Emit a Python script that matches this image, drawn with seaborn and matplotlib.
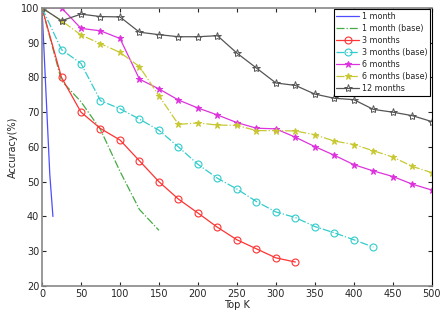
import matplotlib
matplotlib.use("Agg")
import matplotlib.pyplot as plt
import seaborn as sns
import numpy as np

sns.set_style("ticks")
plt.rcParams['font.family'] = ['DejaVu Sans']

k_1m = [0, 10, 14]
acc_1m = [100, 52, 40]

k_1m_base = [0, 25, 50, 75, 100, 125, 150]
acc_1m_base = [100, 79, 73, 65, 53, 42, 36]

k_3m = [0, 25, 50, 75, 100, 125, 150, 175, 200, 225, 250, 275, 300, 325]
acc_3m = [100, 80, 70, 65.3, 62, 56, 50, 45, 41, 36.9, 33.3, 30.7, 28.1, 26.9]

k_3m_base = [0, 25, 50, 75, 100, 125, 150, 175, 200, 225, 250, 275, 300, 325, 350, 375, 400, 425]
acc_3m_base = [100, 88, 84, 73.3, 71, 68, 64.8, 60, 55, 51, 47.9, 44.3, 41.3, 39.7, 37.1, 35.3, 33.3, 31.2]

k_6m = [0, 25, 50, 75, 100, 125, 150, 175, 200, 225, 250, 275, 300, 325, 350, 375, 400, 425, 450, 475, 500]
acc_6m = [100, 100, 94.1, 93.4, 91.2, 79.5, 76.7, 73.5, 71.2, 69.2, 67, 65.4, 65.2, 62.8, 60.1, 57.6, 54.9, 53.1, 51.5, 49.3, 47.6]

k_6m_base = [0, 25, 50, 75, 100, 125, 150, 175, 200, 225, 250, 275, 300, 325, 350, 375, 400, 425, 450, 475, 500]
acc_6m_base = [100, 96.3, 92.2, 89.7, 87.2, 83.1, 74.7, 66.5, 66.9, 66.3, 66.2, 64.7, 64.7, 64.6, 63.5, 61.7, 60.7, 58.9, 57.1, 54.4, 52.6]

k_12m = [0, 25, 50, 75, 100, 125, 150, 175, 200, 225, 250, 275, 300, 325, 350, 375, 400, 425, 450, 475, 500]
acc_12m = [100, 96.3, 98.2, 97.5, 97.4, 93, 92.3, 91.7, 91.7, 92, 87, 82.7, 78.4, 77.7, 75.2, 74, 73.6, 70.8, 70, 69, 67.3]

labels = ["1 month", "1 month (base)", "3 months", "3 months (base)",
          "6 months", "6 months (base)", "12 months"]
xticks = list(range(0, 501, 50))
yticks = list(range(20, 101, 10))

fig = plt.figure(figsize=(4.47, 3.15), dpi=100)
ax = fig.add_axes([0.094, 0.092, 0.872, 0.883])

lw = 0.9
sns.lineplot(x=k_1m, y=acc_1m, ax=ax, color="#4d4dff", linewidth=lw, label=labels[0])
sns.lineplot(x=k_1m_base, y=acc_1m_base, ax=ax, color="#44aa44", linewidth=lw,
             linestyle="-.", label=labels[1])
sns.lineplot(x=k_3m, y=acc_3m, ax=ax, color="#ff3333", linewidth=lw, marker="o",
             markersize=5, markerfacecolor="none", markeredgecolor="#ff3333",
             markeredgewidth=0.8, label=labels[2])
sns.lineplot(x=k_3m_base, y=acc_3m_base, ax=ax, color="#33cccc", linewidth=lw,
             linestyle="-.", marker="o", markersize=5, markerfacecolor="none",
             markeredgecolor="#33cccc", markeredgewidth=0.8, label=labels[3])
sns.lineplot(x=k_6m, y=acc_6m, ax=ax, color="#dd33dd", linewidth=lw, marker="*",
             markersize=5, markerfacecolor="#dd33dd", markeredgecolor="#dd33dd",
             label=labels[4])
sns.lineplot(x=k_6m_base, y=acc_6m_base, ax=ax, color="#c8c832", linewidth=lw,
             linestyle="-.", marker="*", markersize=5, markerfacecolor="#c8c832",
             markeredgecolor="#c8c832", label=labels[5])
sns.lineplot(x=k_12m, y=acc_12m, ax=ax, color="#555555", linewidth=lw, marker="*",
             markersize=6, markerfacecolor="none", markeredgecolor="#555555",
             markeredgewidth=0.7, label=labels[6])

ax.set_xlim(0, 500)
ax.set_ylim(20, 100)
ax.set_xticks(xticks)
ax.set_yticks(yticks)
ax.tick_params(direction="in", top=True, right=True, labelsize=7, length=3, width=0.8, pad=2)
ax.set_xlabel("Top K", fontsize=7, labelpad=1)
ax.set_ylabel("Accuracy(%)", fontsize=7, labelpad=2)
for side in ["left", "bottom", "top"]:
    ax.spines[side].set_color("#888888")
    ax.spines[side].set_linewidth(1.2)
ax.spines["right"].set_color("black")
ax.spines["right"].set_linewidth(0.8)
ax.spines["right"].set_visible(True)
ax.spines["top"].set_visible(True)

leg = ax.legend(loc="upper right", fontsize=5.8, frameon=True, fancybox=False,
                edgecolor="black", framealpha=1, borderpad=0.3, labelspacing=0.38,
                handlelength=2.8, handletextpad=0.4, borderaxespad=0.2)
leg.get_frame().set_linewidth(0.8)

fig.savefig("out.png", dpi=100)
